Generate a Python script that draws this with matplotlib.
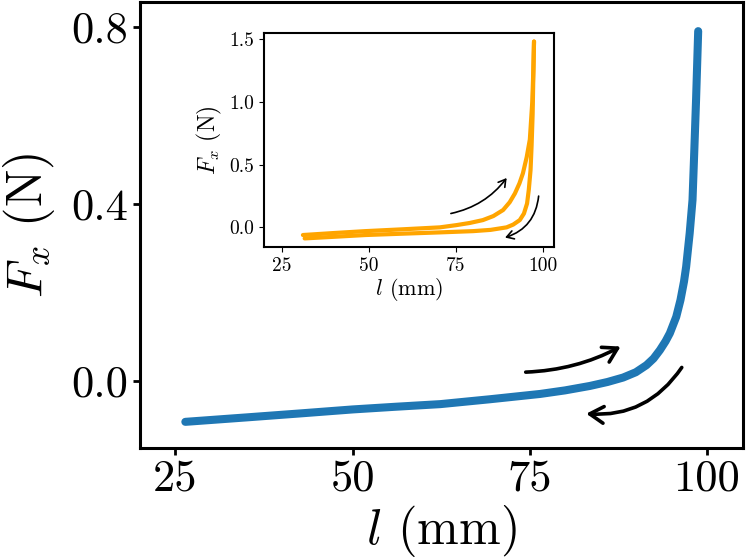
import numpy as np
import matplotlib
matplotlib.use('Agg')
import matplotlib.pyplot as plt
from matplotlib.patches import FancyArrowPatch

plt.rcParams['font.family'] = 'serif'
plt.rcParams['font.serif'] = ['cmr10']
plt.rcParams['mathtext.fontset'] = 'cm'
plt.rcParams['axes.formatter.use_mathtext'] = True

# main curve (blue)
l_main = [26.4, 35, 42.6, 50, 56, 62.4, 69.4, 76.5, 80, 83.5, 86, 88.2, 90,
          91.5, 92.5, 93.4, 94.2, 94.8, 95.7, 96.3, 96.8, 97.1, 97.6, 98.0,
          98.25, 98.5, 98.8]
f_main = [-0.092, -0.082, -0.073, -0.064, -0.058, -0.052, -0.041, -0.029,
          -0.021, -0.011, -0.002, 0.008, 0.02, 0.036, 0.051, 0.070, 0.09,
          0.108, 0.145, 0.183, 0.225, 0.258, 0.334, 0.409, 0.52, 0.635, 0.79]

# inset loop (orange): loading and unloading branches
l_up = [31, 40, 49, 60, 70.4, 75.2, 79, 82.8, 85.8, 88.6, 90.5, 92.0, 93.3,
        94.3, 95.4, 96.3, 97.0, 97.3, 97.5]
f_up = [-0.061, -0.045, -0.03, -0.015, 0.0, 0.018, 0.035, 0.058, 0.09,
        0.138, 0.2, 0.27, 0.35, 0.43, 0.56, 0.70, 1.0, 1.25, 1.48]
l_down = [97.5, 97.3, 97.1, 96.8, 96.5, 96.0, 95.5, 94.6, 93.4, 91.5, 89.6,
          85, 80.0, 70.4, 60, 49, 40, 31.5]
f_down = [1.48, 1.2, 0.9, 0.65, 0.456, 0.3, 0.19, 0.11, 0.058, 0.022, 0.0,
          -0.02, -0.03, -0.04, -0.05, -0.061, -0.075, -0.088]

main_xticks = [25, 50, 75, 100]
main_yticks = [0.0, 0.4, 0.8]
inset_xticks = [25, 50, 75, 100]
inset_yticks = [0.0, 0.5, 1.0, 1.5]

fig = plt.figure(figsize=(7.47, 5.59), dpi=100)
ax = fig.add_axes([0.1874, 0.1986, 0.807, 0.798])
ax.plot(l_main, f_main, color='#1f77b4', lw=5.8, solid_capstyle='round',
        solid_joinstyle='round')
ax.set_xlim(20, 105.1)
ax.set_ylim(-0.151, 0.856)
ax.set_xticks(main_xticks)
ax.set_yticks(main_yticks)
ax.set_xticklabels([str(v) for v in main_xticks])
ax.set_yticklabels(['%.1f' % v for v in main_yticks])
ax.tick_params(labelsize=32, width=2, length=5)
for s in ax.spines.values():
    s.set_linewidth(2.2)
ax.set_xlabel(r'$l$ (mm)', fontsize=36, labelpad=2)
ax.set_ylabel(r'$F_x$ (N)', fontsize=36, labelpad=10)

arrows_main = [((74.06, 0.020), (88.2, 0.081), 0.12),
               ((96.7, 0.036), (82.6, -0.073), -0.3)]
for p0, p1, rad in arrows_main:
    ax.add_patch(FancyArrowPatch(p0, p1, connectionstyle='arc3,rad=%g' % rad,
                                 arrowstyle='->,head_length=10,head_width=6',
                                 lw=2.6, color='black'))

ins = fig.add_axes([0.3534, 0.558, 0.388, 0.383])
ins.plot(l_up, f_up, color='orange', lw=3, solid_capstyle='round',
         solid_joinstyle='round')
ins.plot(l_down, f_down, color='orange', lw=3, solid_capstyle='round',
         solid_joinstyle='round')
ins.set_xlim(19.8, 103.2)
ins.set_ylim(-0.157, 1.548)
ins.set_xticks(inset_xticks)
ins.set_yticks(inset_yticks)
ins.set_xticklabels([str(v) for v in inset_xticks])
ins.set_yticklabels(['%.1f' % v for v in inset_yticks])
ins.tick_params(labelsize=14)
for s in ins.spines.values():
    s.set_linewidth(1.5)
ins.set_xlabel(r'$l$ (mm)', fontsize=16, labelpad=1)
ins.set_ylabel(r'$F_x$ (N)', fontsize=17, labelpad=4)

arrows_ins = [((72.8, 0.106), (90.1, 0.411), 0.2),
              ((98.9, 0.271), (88.4, -0.088), -0.35)]
for p0, p1, rad in arrows_ins:
    ins.add_patch(FancyArrowPatch(p0, p1, connectionstyle='arc3,rad=%g' % rad,
                                  arrowstyle='->,head_length=5,head_width=3',
                                  lw=1.2, color='black'))

fig.savefig('out.png', dpi=100)
